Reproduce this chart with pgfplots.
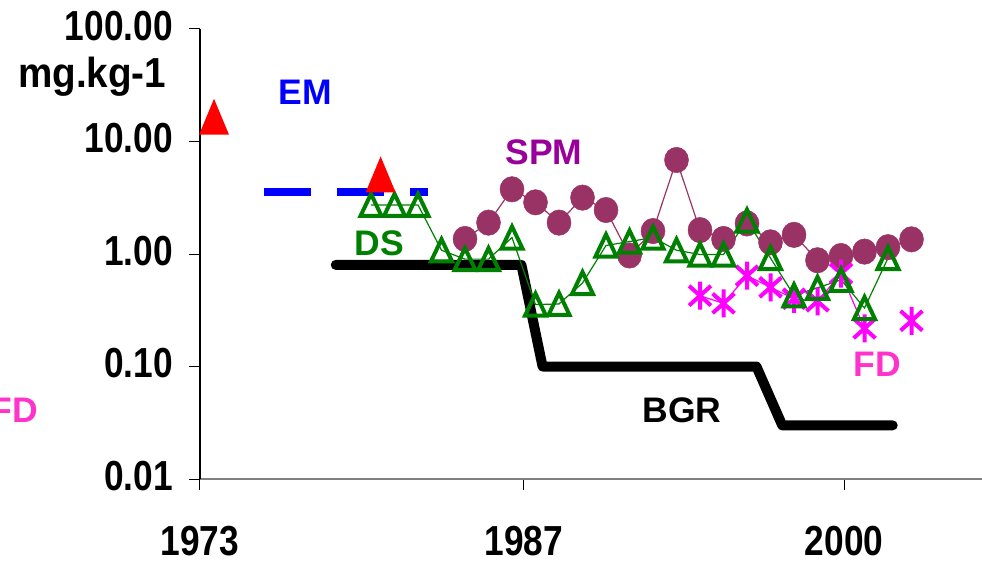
\documentclass[border=0pt]{standalone}
\usepackage{fontspec}
\setmainfont{Liberation Sans}
\newfontfamily\ticknarrow[FakeStretch=0.84]{Liberation Sans}
\newfontfamily\unitnarrow[FakeStretch=0.92]{Liberation Sans}
\usepackage{pgfplots}
\usepackage{pgfplotstable}
\pgfplotsset{compat=1.18}

\definecolor{emblue}{RGB}{0,0,255}
\definecolor{spmdot}{RGB}{153,51,102}
\definecolor{spmtext}{RGB}{153,0,153}
\definecolor{dsgreen}{RGB}{0,128,0}
\definecolor{fdstar}{RGB}{255,0,255}
\definecolor{fdtext}{RGB}{255,51,204}
\definecolor{axisgray}{RGB}{128,128,128}

% tall open triangle
\pgfdeclareplotmark{opentri}{%
  \pgfpathmoveto{\pgfqpoint{0pt}{1.05\pgfplotmarksize}}%
  \pgfpathlineto{\pgfqpoint{-\pgfplotmarksize}{-1.05\pgfplotmarksize}}%
  \pgfpathlineto{\pgfqpoint{\pgfplotmarksize}{-1.05\pgfplotmarksize}}%
  \pgfpathclose
  \pgfusepathqstroke}
% tall filled triangle
\pgfdeclareplotmark{filltri}{%
  \pgfpathmoveto{\pgfqpoint{0pt}{1.2\pgfplotmarksize}}%
  \pgfpathlineto{\pgfqpoint{-\pgfplotmarksize}{-1.2\pgfplotmarksize}}%
  \pgfpathlineto{\pgfqpoint{\pgfplotmarksize}{-1.2\pgfplotmarksize}}%
  \pgfpathclose
  \pgfusepathqfill}
% six-armed star: vertical bar plus a cross
\pgfdeclareplotmark{sixstar}{%
  \pgfpathmoveto{\pgfqpoint{0pt}{\pgfplotmarksize}}%
  \pgfpathlineto{\pgfqpoint{0pt}{-\pgfplotmarksize}}%
  \pgfpathmoveto{\pgfqpoint{-0.78\pgfplotmarksize}{0.7\pgfplotmarksize}}%
  \pgfpathlineto{\pgfqpoint{0.78\pgfplotmarksize}{-0.7\pgfplotmarksize}}%
  \pgfpathmoveto{\pgfqpoint{-0.78\pgfplotmarksize}{-0.7\pgfplotmarksize}}%
  \pgfpathlineto{\pgfqpoint{0.78\pgfplotmarksize}{0.7\pgfplotmarksize}}%
  \pgfusepathqstroke}

% background reference level (step line)
\pgfplotstableread{
year value
1978.5 0.8
1986.4 0.8
1987.3 0.1
1996.4 0.1
1997.5 0.03
2002.2 0.03
}\bgrdata

% suspended particulate matter
\pgfplotstableread{
year value
1984 1.36
1985 1.90
1986 3.76
1987 2.88
1988 1.90
1989 3.17
1990 2.46
1991 0.97
1992 1.60
1993 6.85
1994 1.63
1995 1.36
1996 1.87
1997 1.27
1998 1.48
1999 0.88
2000 0.96
2001 1.05
2002 1.15
2003 1.35
}\spmdata

% deposited sediment
\pgfplotstableread{
year value
1980 2.73
1981 2.73
1982 2.73
1983 1.08
1984 0.90
1985 0.90
1986 1.40
1987 0.355
1988 0.36
1989 0.552
1990 1.19
1991 1.29
1992 1.40
1993 1.08
1994 0.99
1995 0.99
1996 1.98
1997 0.92
1998 0.428
1999 0.50
2000 0.59
2001 0.331
2002 0.92
}\dsdata

% fresh deposits
\pgfplotstableread{
year value
1994 0.426
1995 0.364
1996 0.641
1997 0.506
1998 0.40
1999 0.38
2000 0.67
2001 0.218
2002 nan
2003 0.255
}\fddata

% emission level
\pgfplotstableread{
year value
1975.45 3.58
1982.43 3.58
}\emdata

% single measurements
\pgfplotstableread{
year value
1973.32 16.6
1980.41 5.1
}\pointdata

\begin{document}
\begin{tikzpicture}
\useasboundingbox (-200pt,-84pt) rectangle (782pt,479pt);
\clip (-200pt,-84pt) rectangle (782pt,479pt);
\begin{axis}[
  at={(0pt,0pt)}, anchor=south west,
  scale only axis, width=782pt, height=450pt,
  ymode=log, ymin=0.01, ymax=100,
  xmin=1972.723, xmax=2006,
  axis x line*=bottom, axis y line*=left,
  x axis line style={draw=axisgray, line width=1.5pt},
  y axis line style={draw=black, line width=1.2pt},
  ytick={0.01,0.1,1,10,100},
  yticklabels={0.01,0.10,1.00,10.00,100.00},
  xtick={1972.723,1986.51,2000.13},
  xticklabels={1973,1987,2000},
  yminorticks=false, xminorticks=false,
  tick align=outside,
  major tick length=11pt,
  tick style={black, line width=1pt},
  yticklabel style={font=\ticknarrow\bfseries\fontsize{42}{42}\selectfont, anchor=east, inner sep=0pt, xshift=-16pt, yshift=3pt},
  xticklabel style={font=\ticknarrow\bfseries\fontsize{42}{42}\selectfont, anchor=north, inner sep=0pt, yshift=-36pt},
  unbounded coords=jump,
  clip=false,
]
\addplot[black, line width=10pt, line cap=round, line join=round] table[x=year, y=value] {\bgrdata};
\addplot[spmdot, line width=1.2pt, mark=*, mark size=12pt, mark options={fill=spmdot, draw=spmdot, line width=0.5pt, yscale=1.06}] table[x=year, y=value] {\spmdata};
\addplot[fdstar, line width=1.2pt, mark=sixstar, mark size=14pt, mark options={line width=4pt}] table[x=year, y=value] {\fddata};
\addplot[dsgreen, line width=1.2pt, mark=opentri, mark size=10.5pt, mark options={line width=4pt, line join=miter}] table[x=year, y=value] {\dsdata};
\addplot[emblue, line width=8pt, dash pattern=on 47pt off 26pt] table[x=year, y=value] {\emdata};
\addplot[only marks, red, mark=filltri, mark size=15pt, mark options={fill=red}] table[x=year, y=value] {\pointdata};
\end{axis}
\begin{scope}[every node/.style={font=\bfseries\fontsize{35.5}{36}\selectfont, inner sep=0pt}]
\node[anchor=base, text=emblue] at (105.5pt,374pt) {EM};
\node[anchor=base, text=spmtext] at (344pt,314pt) {SPM};
\node[anchor=base, text=dsgreen] at (179.5pt,223pt) {DS};
\node[anchor=base, text=black] at (482pt,57pt) {BGR};
\node[anchor=base, text=fdtext] at (677.5pt,103pt) {FD};
\node[anchor=base east, text=fdtext] at (-162pt,57pt) {FD};
\end{scope}
\node[anchor=base west, inner sep=0pt, font=\unitnarrow\bfseries\fontsize{42}{42}\selectfont] at (-182pt,391pt) {mg.kg-1};
\end{tikzpicture}
\end{document}
